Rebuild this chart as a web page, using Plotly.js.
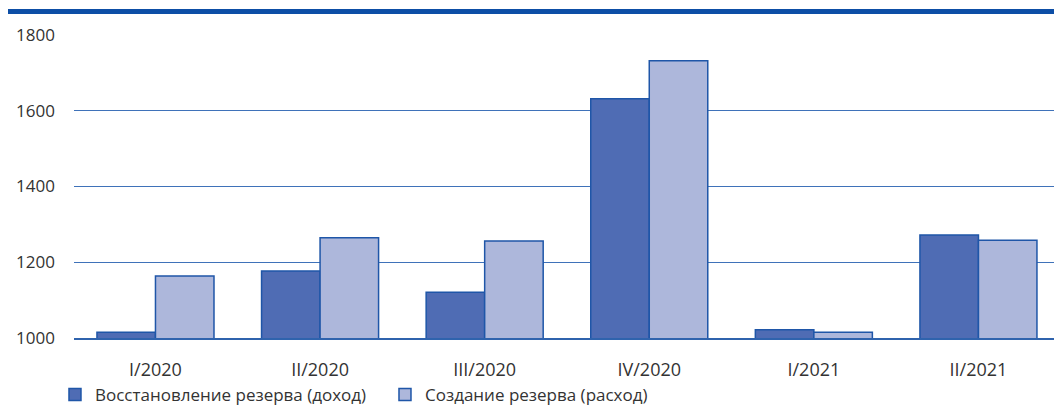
<!DOCTYPE html>
<html>
<head>
<meta charset="utf-8">
<script src="https://cdn.plot.ly/plotly-3.0.1.min.js"></script>
<style>html,body{margin:0;padding:0;background:#fff;}#chart{width:1054px;height:405px;}</style>
</head>
<body>
<div id="chart"></div>
<script>
const categories = ["I/2020", "II/2020", "III/2020", "IV/2020", "I/2021", "II/2021"];
const recoveryValues = [1015, 1177, 1121, 1632, 1022, 1272];
const creationValues = [1164, 1265, 1256, 1732, 1015, 1258];
const seriesNames = ["Восстановление резерва (доход)", "Создание резерва (расход)"];
const yTicks = [1000, 1200, 1400, 1600, 1800];

const lineColor = "#1f56a8";
const traces = [
  {type: "bar", name: seriesNames[0], x: categories, y: recoveryValues,
   marker: {color: "#4f6cb4", line: {color: lineColor, width: 1.5}}},
  {type: "bar", name: seriesNames[1], x: categories, y: creationValues,
   marker: {color: "#adb7db", line: {color: lineColor, width: 1.5}}}
];

const layout = {
  width: 1054, height: 405,
  margin: {l: 74, r: 0, t: 35, b: 67, autoexpand: false},
  paper_bgcolor: "#fff", plot_bgcolor: "#fff",
  barmode: "group", bargap: 0.289, bargroupgap: 0,
  font: {family: "Open Sans, sans-serif", color: "#333", size: 17},
  showlegend: true,
  legend: {orientation: "h", x: -0.0194, xanchor: "left", y: -0.188, yanchor: "middle",
           font: {size: 17, color: "#333"}, itemwidth: 30, entrywidth: 285, traceorder: "normal"},
  xaxis: {type: "category", range: [-0.495, 5.459], showgrid: false, showline: true, linecolor: "#2f63ad", linewidth: 2,
          ticks: "", ticklabelstandoff: 14, tickfont: {size: 18, color: "#333"}, fixedrange: true},
  yaxis: {range: [1000, 1800], tickvals: yTicks, ticktext: yTicks.map(String),
          showgrid: true, gridcolor: "#3f72b9", gridwidth: 1, zeroline: false, showline: false,
          ticks: "", ticklabelstandoff: 18, tickfont: {size: 17, color: "#333"}, fixedrange: true},
  shapes: [{type: "rect", xref: "paper", yref: "paper",
            x0: (8 - 74) / 980, x1: 1, y0: (338 - 14) / 303, y1: (338 - 9) / 303,
            fillcolor: "#0d4ea6", line: {width: 0}}]
};

Plotly.newPlot("chart", traces, layout, {displayModeBar: false, staticPlot: true});
</script>
</body>
</html>
